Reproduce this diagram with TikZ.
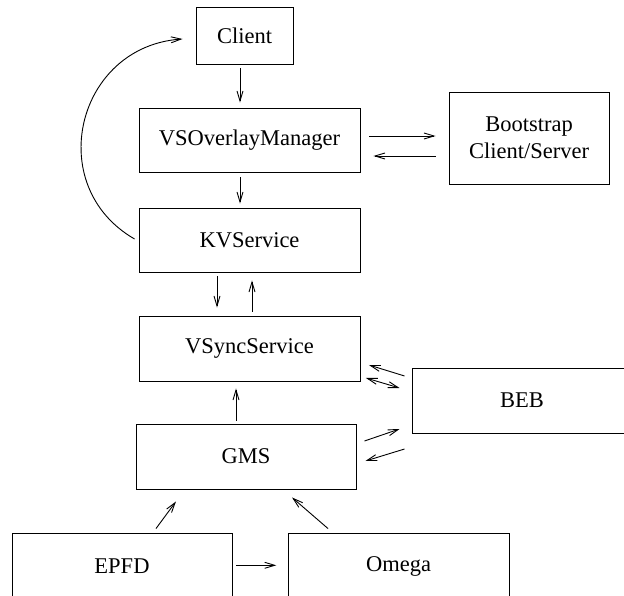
\documentclass[tikz,border=0pt]{standalone}
\usepackage{fontspec}
\setmainfont{Liberation Serif}
\usepackage{tikz}
\usetikzlibrary{arrows.meta}

\begin{document}
\begin{tikzpicture}[
  x=1pt, y=1pt,
  >={Straight Barb[length=10pt, width=6pt]},
  comp/.style={draw=black, line width=0.9pt, minimum width=221pt, minimum height=64pt, inner sep=0pt, align=center, font=\fontsize{22.5}{26}\selectfont},
  arr/.style={->, line width=0.9pt},
  dblarr/.style={<->, line width=0.9pt}
]
\useasboundingbox (0,0) rectangle (624,595);
\clip (0,0) rectangle (624,595);
% components
\node[comp, minimum width=97pt, minimum height=57pt] (client) at (244.5,559.5) {Client};
\node[comp] (vso) at (249.5,455) {VSOverlayManager};
\node[comp] (kv) at (249.5,355) {KVService};
\node[comp, minimum width=160pt, minimum height=92pt] (boot) at (529,457) {Bootstrap\\[1pt]Client/Server};
\node[comp, minimum height=65pt] (vsync) at (249.5,246.5) {VSyncService};
\node[comp, minimum width=220pt, minimum height=65pt] (gms) at (246,138.5) {GMS};
\node[comp, minimum width=220pt, minimum height=65pt] (beb) at (522,194.5) {BEB};
\node[comp, minimum width=220pt, minimum height=66pt] (epfd) at (122,29) {EPFD};
\node[comp, minimum height=66pt] (omega) at (398.5,29) {Omega};
% vertical chain
\draw[arr] ([xshift=-4.5pt,yshift=-4pt]client.south) -- ([xshift=-9.5pt,yshift=5pt]vso.north);
\draw[arr] ([xshift=-9.5pt,yshift=-5pt]vso.south) -- ([xshift=-9.5pt,yshift=4pt]kv.north);
\draw[arr] ([xshift=-32.5pt,yshift=-4pt]kv.south) -- ([xshift=-32.5pt,yshift=8pt]vsync.north);
\draw[arr] ([xshift=2.5pt,yshift=4pt]vsync.north) -- ([xshift=2.5pt,yshift=-8pt]kv.south);
\draw[arr] ([xshift=-10pt,yshift=3pt]gms.north) -- ([xshift=-13.5pt,yshift=-7pt]vsync.south);
% bootstrap
\draw[arr] ([xshift=9pt,yshift=4pt]vso.east) -- ([xshift=-13pt,yshift=2pt]boot.west);
\draw[arr] ([xshift=-13pt,yshift=-18pt]boot.west) -- ([xshift=13pt,yshift=-16pt]vso.east);
% back to the client
\draw[arr] ([xshift=-4pt,yshift=1pt]kv.west) to[out=150, in=184, looseness=1.32] ([xshift=-13pt,yshift=-3.5pt]client.west);
% beb
\draw[arr] ([xshift=-7pt,yshift=24.5pt]beb.west) -- ([xshift=8.5pt,yshift=-16.5pt]vsync.east);
\draw[dblarr] ([xshift=5.5pt,yshift=-29.5pt]vsync.east) -- ([xshift=-12pt,yshift=12.5pt]beb.west);
\draw[arr] ([xshift=8pt,yshift=15.5pt]gms.east) -- ([xshift=-12pt,yshift=-28.5pt]beb.west);
\draw[arr] ([xshift=-7pt,yshift=-48.5pt]beb.west) -- ([xshift=9pt,yshift=-4.5pt]gms.east);
% detectors
\draw[arr] ([xshift=34pt,yshift=4pt]epfd.north) -- ([xshift=-70pt,yshift=-12pt]gms.south);
\draw[arr] ([xshift=-70.5pt,yshift=4pt]omega.north) -- ([xshift=46pt,yshift=-8pt]gms.south);
\draw[arr] ([xshift=4pt,yshift=0.7pt]epfd.east) -- ([xshift=-11.3pt,yshift=0.7pt]omega.west);
\end{tikzpicture}
\end{document}
